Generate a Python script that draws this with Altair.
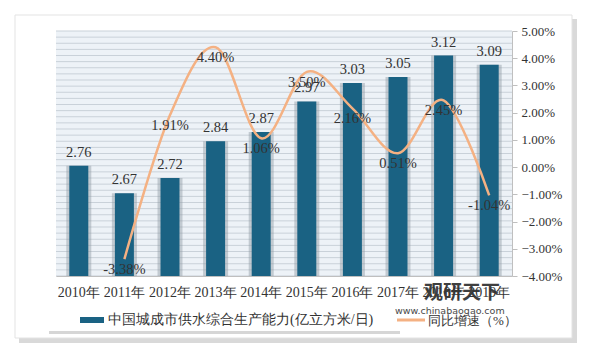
import altair as alt
import pandas as pd

years = ["2010年", "2011年", "2012年", "2013年", "2014年", "2015年", "2016年", "2017年", "2018年", "2019年"]
capacity = [2.76, 2.67, 2.72, 2.84, 2.87, 2.97, 3.03, 3.05, 3.12, 3.09]
growth = [None, -3.38, 1.91, 4.40, 1.06, 3.50, 2.16, 0.51, 2.45, -1.04]
growth_labels = ["", "-3.38%", "1.91%", "4.40%", "1.06%", "3.50%", "2.16%", "0.51%", "2.45%", "-1.04%"]

bar_name = "中国城成市供水综合生产能力(亿立方米/日)"
line_name = "同比增速（%）"

df = pd.DataFrame({"year": years, "cap": capacity, "g": growth, "gl": growth_labels})
df_line = df.dropna(subset=["g"])

grid_vals = pd.DataFrame({"v": [round(2.4 + 0.02 * i, 2) for i in range(41)]})

FONT = "Liberation Serif"
W, H = 456, 245
OX, OY = 56, 31  # plot origin in page pixels

def px(v, o):
    return alt.value(v - o)

one = pd.DataFrame({"a": [0]})

x_enc = alt.X("year:N", sort=years,
              scale=alt.Scale(paddingInner=0, paddingOuter=0),
              axis=alt.Axis(title=None, labelAngle=0, labelFont=FONT, labelFontSize=14,
                            labelColor="#333333", ticks=False, labelPadding=9,
                            domainColor="#bfbfbf", grid=False, zindex=2))

# Decorations: frame with shadow, plot background, legend box
frame_shadow = alt.Chart(one).mark_rect(color="#d0d0d0", opacity=0.8).encode(
    x=px(19, OX), x2=px(577, OX), y=px(19, OY), y2=px(343, OY))
frame = alt.Chart(one).mark_rect(color="white", stroke="#e3e3e3", strokeWidth=1).encode(
    x=px(15, OX), x2=px(572, OX), y=px(15, OY), y2=px(338, OY))
plot_bg = alt.Chart(one).mark_rect(color="#edf2f7").encode(
    x=alt.value(0), x2=alt.value(W), y=alt.value(0), y2=alt.value(H))
legend_shadow = alt.Chart(one).mark_rect(color="#d6d6d6").encode(
    x=px(49, OX), x2=px(400, OX), y=px(311, OY), y2=px(334, OY))
legend_box = alt.Chart(one).mark_rect(color="white").encode(
    x=px(47, OX), x2=px(512, OX), y=px(309, OY), y2=px(331, OY))
leg_bar = alt.Chart(one).mark_rect(color="#1a6283").encode(
    x=px(80, OX), x2=px(104, OX), y=px(317, OY), y2=px(323, OY))
leg_bar_text = alt.Chart(one).mark_text(align="left", baseline="middle", font=FONT,
                                        fontSize=14, color="#333333").encode(
    x=px(108, OX), y=px(320, OY), text=alt.value(bar_name))
leg_line = alt.Chart(one).mark_rule(color="#f4b183", strokeWidth=3).encode(
    x=px(397, OX), x2=px(425, OX), y=px(320, OY))
leg_line_text = alt.Chart(one).mark_text(align="left", baseline="middle", font=FONT,
                                         fontSize=13, color="#333333").encode(
    x=px(428, OX), y=px(321, OY), text=alt.value(line_name))
wm1 = alt.Chart(one).mark_text(align="left", baseline="middle", font="Noto Sans CJK SC",
                               fontSize=19, fontWeight="bold", color="#2b2b2b", opacity=0.9).encode(
    x=px(424, OX), y=px(293, OY), text=alt.value("观研天下"))
wm2 = alt.Chart(one).mark_text(align="left", baseline="middle", font="DejaVu Sans",
                               fontSize=9.5, color="#333333", opacity=0.9).encode(
    x=px(395, OX), y=px(311, OY), text=alt.value("www.chinabaogao.com"))

decor = alt.layer(frame_shadow, frame, plot_bg, legend_shadow, legend_box,
                  leg_bar, leg_bar_text, leg_line, leg_line_text)

# Left (bars)
y_left = alt.Y("cap:Q", scale=alt.Scale(domain=[2.4, 3.2], nice=False, zero=False),
               axis=alt.Axis(title=None, values=[2.4, 2.5, 2.6, 2.7, 2.8, 2.9, 3.0, 3.1, 3.2],
                             format=".1~f", labelFont=FONT, labelFontSize=14,
                             labelColor="#333333", ticks=False, domain=False, grid=False,
                             labelPadding=10, orient="left", zindex=2))

grid = alt.Chart(grid_vals).mark_rule(color="#c9d1d9", strokeWidth=1).encode(
    y=alt.Y("v:Q", scale=alt.Scale(domain=[2.4, 3.2], nice=False, zero=False), axis=None),
    x=alt.value(0), x2=alt.value(W))

bar_shadow = alt.Chart(df).mark_bar(size=25, color="#8d98a2", opacity=0.45).encode(
    x=x_enc, y=y_left, y2=alt.datum(2.4))
bars = alt.Chart(df).mark_bar(size=19, color="#1a6283").encode(
    x=x_enc, y=y_left, y2=alt.datum(2.4))
bar_text = alt.Chart(df).mark_text(font=FONT, fontSize=14.5, color="#333333",
                                   baseline="bottom", dy=-6).encode(
    x=x_enc, y=y_left, text=alt.Text("cap:Q", format=".2f"))

left = alt.layer(grid, bar_shadow, bars, bar_text)

# Right (line)
y_right = alt.Y("g:Q", scale=alt.Scale(domain=[-4, 5], nice=False, zero=False),
                axis=alt.Axis(title=None, orient="right", values=list(range(-4, 6)),
                              labelExpr="format(datum.value, '.2f') + '%'",
                              labelFont=FONT, labelFontSize=13, labelColor="#333333",
                              domainColor="#bfbfbf", tickColor="#bfbfbf", tickSize=5,
                              grid=False, labelPadding=4, zindex=2))

line = alt.Chart(df_line).mark_line(color="#f4b183", strokeWidth=2.5,
                                    interpolate="cardinal").encode(x=x_enc, y=y_right)
line_text = alt.Chart(df_line).mark_text(font=FONT, fontSize=14.5, color="#333333",
                                         baseline="middle", dy=11).encode(
    x=x_enc, y=y_right, text="gl:N")

right = alt.layer(line, line_text, wm1, wm2)

chart = alt.layer(decor, left, right).resolve_scale(y="independent").properties(
    width=W, height=H,
    autosize=alt.AutoSizeParams(type="none"),
    padding={"left": OX, "top": OY, "right": 597 - OX - W, "bottom": 351 - OY - H},
    background="white",
).configure_view(stroke=None)

chart.save("out.html", embed_options={"renderer": "svg", "actions": False})
